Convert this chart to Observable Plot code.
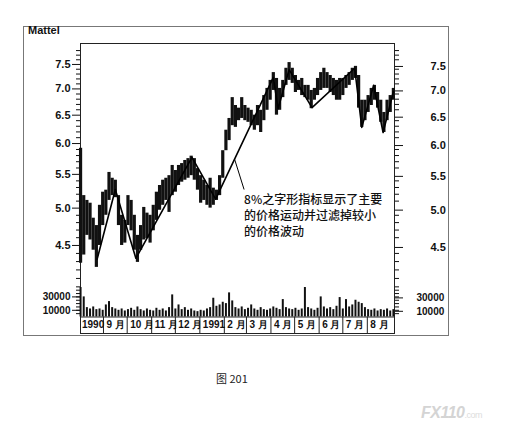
<!DOCTYPE html>
<html><head><meta charset="utf-8">
<script src="https://cdn.jsdelivr.net/npm/d3@7"></script>
<script src="https://cdn.jsdelivr.net/npm/@observablehq/plot@0.6"></script>
<style>
html,body{margin:0;padding:0;background:#fff;}
#wrap{position:relative;width:523px;height:438px;overflow:hidden;background:#fff;font-family:"Liberation Sans",Arial,sans-serif;}
#wrap svg{position:absolute;left:0;top:0;}
.box{position:absolute;box-sizing:border-box;}
</style></head><body>
<div id="wrap">
  <div class="box" style="left:23px;top:26px;width:426px;height:310px;border:1px solid #777"></div>
  <div class="box" style="left:80px;top:43px;width:315px;height:291px;border:1px solid #222"></div>
  <div style="position:absolute;left:28px;top:24px;font:bold 11px 'Liberation Sans',Arial,sans-serif;color:#111">Mattel</div>
  <div style="position:absolute;left:216px;top:370px;font:11px 'Noto Sans CJK SC',sans-serif;color:#222">图 201</div>
  <div style="position:absolute;left:421px;top:404px;font:bold italic 16px 'Liberation Sans',Arial,sans-serif;color:#d4d4d4;letter-spacing:-0.5px">FX110<span style="font-size:9px;font-style:normal;font-weight:normal;color:#ddd">.com</span></div>
</div>
<script>
// ---- data ----
const dates = [
"1990-08-03","1990-08-07","1990-08-11","1990-08-15","1990-08-19","1990-08-23","1990-08-27","1990-08-31",
"1990-09-04","1990-09-08","1990-09-12","1990-09-16","1990-09-20","1990-09-24","1990-09-28",
"1990-10-02","1990-10-06","1990-10-10","1990-10-14","1990-10-18","1990-10-22","1990-10-26","1990-10-30",
"1990-11-03","1990-11-07","1990-11-11","1990-11-15","1990-11-19","1990-11-23","1990-11-27",
"1990-12-01","1990-12-05","1990-12-09","1990-12-13","1990-12-17","1990-12-21","1990-12-25","1990-12-29",
"1991-01-02","1991-01-06","1991-01-10","1991-01-14","1991-01-18","1991-01-22","1991-01-26","1991-01-30",
"1991-02-03","1991-02-07","1991-02-11","1991-02-15","1991-02-19","1991-02-23","1991-02-27",
"1991-03-03","1991-03-07","1991-03-11","1991-03-15","1991-03-19","1991-03-23","1991-03-27","1991-03-31",
"1991-04-04","1991-04-08","1991-04-12","1991-04-16","1991-04-20","1991-04-24","1991-04-28",
"1991-05-02","1991-05-06","1991-05-10","1991-05-14","1991-05-18","1991-05-22","1991-05-26","1991-05-30",
"1991-06-03","1991-06-07","1991-06-11","1991-06-15","1991-06-19","1991-06-23","1991-06-27",
"1991-07-01","1991-07-05","1991-07-09","1991-07-13","1991-07-17","1991-07-21","1991-07-25","1991-07-29",
"1991-08-02","1991-08-06","1991-08-10","1991-08-14","1991-08-18","1991-08-22","1991-08-26","1991-08-30",
"1991-09-03"];

const priceHigh = [5.92,5.18,5.11,5.07,4.86,4.76,5.04,5.23,5.26,5.53,
5.44,5.41,5.18,4.90,4.83,5.18,5.11,4.90,4.63,4.76,
5.01,4.93,4.90,5.04,5.23,5.33,5.41,5.44,5.48,5.64,
5.56,5.64,5.67,5.72,5.75,5.79,5.75,5.59,5.48,5.41,
5.33,5.44,5.29,5.26,5.48,5.88,6.23,6.44,6.83,6.68,
6.63,6.83,6.68,6.63,6.59,6.50,6.68,6.59,6.87,7.01,
7.17,7.33,7.21,7.01,7.17,7.42,7.54,7.42,7.27,7.17,
7.21,7.07,7.07,6.97,7.01,7.21,7.33,7.42,7.33,7.27,
7.21,7.17,7.21,7.21,7.27,7.33,7.42,7.46,7.27,6.78,
6.78,6.87,7.01,7.07,6.93,6.78,6.55,6.78,6.87,7.01];

const priceLow = [4.28,4.38,4.63,4.57,4.44,4.23,4.50,4.76,4.90,5.11,
5.18,5.15,4.76,4.50,4.53,4.76,4.69,4.44,4.29,4.44,
4.57,4.59,4.53,4.69,4.83,4.97,5.04,5.11,4.94,5.18,
5.23,5.33,5.38,5.41,5.44,5.48,5.41,5.26,5.07,5.11,
5.04,5.00,5.04,5.11,5.18,5.44,5.88,6.05,6.31,6.28,
6.40,6.44,6.40,6.37,6.31,6.23,6.31,6.19,6.40,6.59,
6.78,6.97,6.50,6.59,6.83,7.07,7.17,7.11,6.93,6.97,
6.87,6.83,6.78,6.62,6.78,6.87,6.97,7.01,7.01,6.93,
6.87,6.78,6.78,6.87,7.01,7.07,7.17,7.21,6.63,6.28,
6.40,6.55,6.68,6.78,6.63,6.37,6.19,6.40,6.55,6.78];

const volume = [44000,30000,14000,12000,15000,11000,12000,10000,18000,23000,
14000,12000,10000,12000,9000,11000,13000,10000,15000,11000,
9000,12000,10000,9000,13000,10000,12000,9000,14000,33000,
12000,18000,11000,14000,10000,12000,9000,8000,10000,9000,
12000,14000,28000,16000,18000,22000,20000,36000,24000,14000,
12000,15000,11000,13000,18000,12000,10000,14000,11000,10000,
12000,15000,13000,11000,26000,14000,12000,11000,13000,10000,
12000,44000,14000,12000,10000,13000,30000,15000,12000,14000,
11000,16000,29000,12000,26000,15000,18000,25000,22000,20000,
14000,11000,10000,12000,9000,11000,10000,12000,9000,11000];

const zigzagDates = ["1990-08-24","1990-09-16","1990-10-12","1990-12-22","1991-01-21","1991-04-04","1991-04-10","1991-04-24","1991-05-23","1991-07-16","1991-07-25","1991-08-09","1991-08-21","1991-09-03"];
const zigzagPrices = [4.33,5.27,4.34,5.77,5.13,7.23,6.62,7.39,6.64,7.42,6.28,7.07,6.19,6.95];

const monthStarts = ["1990-08-01","1990-09-01","1990-10-01","1990-11-01","1990-12-01","1991-01-01","1991-02-01","1991-03-01","1991-04-01","1991-05-01","1991-06-01","1991-07-01","1991-08-01"];
const monthLabels = ["1990","9 月","10 月","11 月","12 月","1991","2 月","3 月","4 月","5 月","6 月","7 月","8 月"];

const priceMajorTicks = [4.5,5.0,5.5,6.0,6.5,7.0,7.5];
const volumeMajorTicks = [10000,30000];
const noteText = "8%之字形指标显示了主要\n的价格运动并过滤掉较小\n的价格波动";
const notePoint = {date: "1991-02-26", price: 5.23};
const pointer = {fromDate: "1991-02-14", fromPrice: 5.74, toDate: "1991-02-26", toPrice: 5.27};

// ---- build ----
const parse = d3.utcParse("%Y-%m-%d");
const bars = dates.map((d, i) => ({date: parse(d), high: priceHigh[i], low: priceLow[i], vol: volume[i]}));
const zigzag = zigzagDates.map((d, i) => ({date: parse(d), price: zigzagPrices[i]}));
const months = monthStarts.map((d, i) => ({date: parse(d), label: monthLabels[i]}));
const priceMinorTicks = d3.range(41, 79).map(v => v / 10).filter(v => !priceMajorTicks.some(m => Math.abs(m - v) < 1e-9));
const volumeMinorTicks = d3.range(5000, 45001, 5000);

const xScale = {type: "utc", domain: [new Date(Date.UTC(1990, 7, 2, 22)), new Date(Date.UTC(1991, 8, 4, 10))], axis: null, label: null};
const common = {
  width: 523, height: 438, marginLeft: 80, marginRight: 129,
  style: {background: "transparent", overflow: "visible", fontFamily: "'Liberation Sans', Arial, sans-serif", color: "#111"}
};
const fmt1 = d3.format(".1f");

const pricePlot = Plot.plot({
  ...common, marginTop: 41.1, marginBottom: 151.3,
  x: xScale,
  y: {type: "log", domain: [4, 8], axis: null, label: null},
  marks: [
    Plot.axisY({anchor: "left", label: null, ticks: priceMinorTicks, tickSize: 4, tickFormat: () => ""}),
    Plot.axisY({anchor: "left", label: null, ticks: priceMajorTicks, tickSize: 8, tickPadding: 2, tickFormat: fmt1, fontSize: 11, fontWeight: "bold"}),
    Plot.axisY({anchor: "right", label: null, ticks: priceMinorTicks, tickSize: 4, tickFormat: () => ""}),
    Plot.axisY({anchor: "right", label: null, ticks: priceMajorTicks, tickSize: 8, tickPadding: 28, tickFormat: fmt1, fontSize: 11, fontWeight: "bold", dy: 2}),
    Plot.ruleX(bars, {x: "date", y1: "low", y2: "high", stroke: "#111", strokeWidth: 3.2}),
    Plot.line(zigzag, {x: "date", y: "price", stroke: "#000", strokeWidth: 1.6}),
    Plot.link([pointer], {x1: d => parse(d.fromDate), y1: "fromPrice", x2: d => parse(d.toDate), y2: "toPrice", stroke: "#000", strokeWidth: 1}),
    Plot.text([notePoint], {x: d => parse(d.date), y: "price", text: () => noteText, textAnchor: "start", lineAnchor: "top", lineHeight: 1.35, fontSize: 12, fontWeight: 500, fontFamily: "'Noto Sans CJK SC', sans-serif", fill: "#111"})
  ]
});

const volPlot = Plot.plot({
  ...common, marginTop: 286.35, marginBottom: 121.5,
  x: xScale,
  y: {domain: [0, 45000], axis: null, label: null},
  marks: [
    Plot.axisY({anchor: "left", label: null, ticks: volumeMinorTicks, tickSize: 4, tickFormat: () => ""}),
    Plot.axisY({anchor: "left", label: null, ticks: volumeMajorTicks, tickSize: 8, tickPadding: 2, tickFormat: d3.format("d"), fontSize: 10, fontWeight: "bold"}),
    Plot.axisY({anchor: "right", label: null, ticks: volumeMinorTicks, tickSize: 4, tickFormat: () => ""}),
    Plot.axisY({anchor: "right", label: null, ticks: volumeMajorTicks, tickSize: 8, tickPadding: 14, tickFormat: d3.format("d"), fontSize: 10, fontWeight: "bold", dy: 1}),
    Plot.ruleX(bars, {x: "date", y: "vol", stroke: "#111", strokeWidth: 2})
  ]
});

const bandPlot = Plot.plot({
  ...common, marginTop: 316.5, marginBottom: 105,
  x: xScale,
  marks: [
    Plot.frame({stroke: "#222"}),
    Plot.tickX(months.slice(1), {x: "date", stroke: "#222"}),
    Plot.text(months, {x: "date", text: "label", frameAnchor: "middle", textAnchor: "start", dx: 3, fontSize: 10, fontWeight: "bold", letterSpacing: "-0.5px", fill: "#111"})
  ]
});

const wrap = document.getElementById("wrap");
wrap.appendChild(pricePlot);
wrap.appendChild(volPlot);
wrap.appendChild(bandPlot);
</script>
</body></html>
